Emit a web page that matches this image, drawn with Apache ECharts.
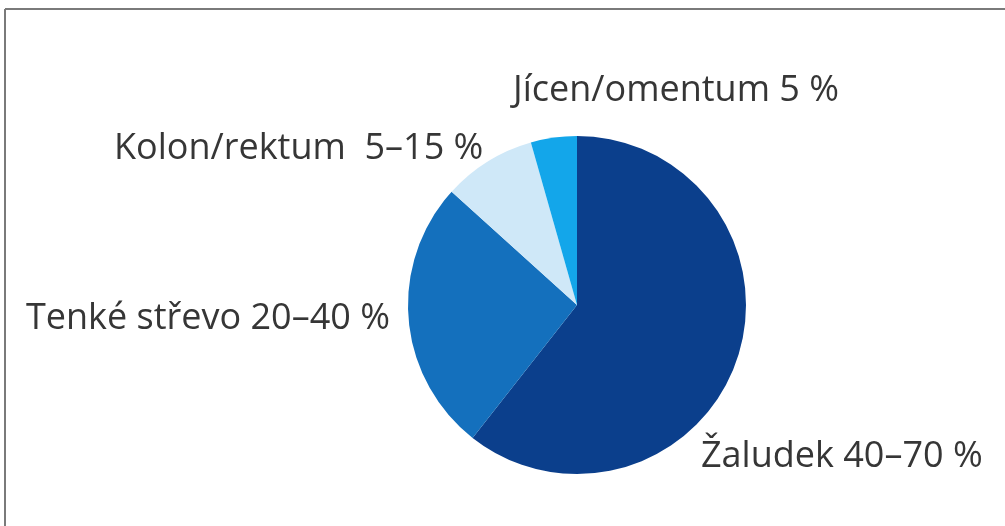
<!DOCTYPE html>
<html><head><meta charset="utf-8">
<script src="https://cdn.jsdelivr.net/npm/echarts@6/dist/echarts.min.js"></script>
<style>html,body{margin:0;padding:0;background:#fff}#c{width:1005px;height:526px}</style>
</head><body><div id="c"></div>
<script>
const categories = ['Žaludek 40–70 %', 'Tenké střevo 20–40 %', 'Kolon/rektum  5–15 %', 'Jícen/omentum 5 %'];
const values = [60.6, 26.1, 8.9, 4.4];
const colors = ['#0b3f8c', '#1470bd', '#cfe8f8', '#13a6ea'];
const labelPos = [
  {x: 701, y: 457},
  {x: 26, y: 319},
  {x: 114, y: 149},
  {x: 513, y: 91}
];
const chart = echarts.init(document.getElementById('c'));
chart.setOption({
  backgroundColor: '#fff',
  animation: false,
  graphic: [
    {type: 'line', shape: {x1: 5, y1: 9, x2: 1005, y2: 9}, style: {stroke: '#7a7a7a', lineWidth: 2}},
    {type: 'line', shape: {x1: 5, y1: 9, x2: 5, y2: 526}, style: {stroke: '#7a7a7a', lineWidth: 2}}
  ],
  series: [{
    type: 'pie',
    center: [577, 305],
    radius: 169,
    startAngle: 90,
    clockwise: true,
    data: categories.map((c, i) => ({name: c, value: values[i], itemStyle: {color: colors[i]}})),
    label: {show: true, formatter: '{b}', color: '#363636', fontSize: 36, fontFamily: 'Open Sans', overflow: 'none', width: 600},
    labelLine: {show: false},
    labelLayout: function (p) {
      const lp = labelPos[p.dataIndex];
      return {x: lp.x, y: lp.y, align: 'left', verticalAlign: 'middle', hideOverlap: false, moveOverlap: null};
    },
    emphasis: {disabled: true}
  }]
});
</script></body></html>
